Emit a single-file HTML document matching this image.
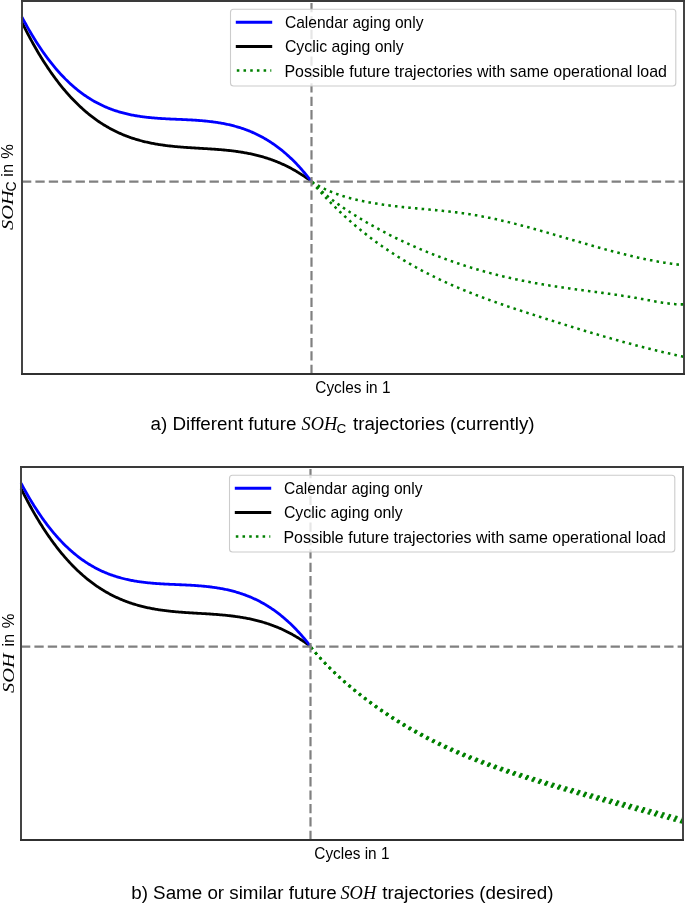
<!DOCTYPE html>
<html><head><meta charset="utf-8"><style>
html,body{margin:0;padding:0;background:#fff;width:685px;height:903px;overflow:hidden}
svg{position:absolute;left:0;top:0;will-change:transform}
</style></head><body>
<svg width="685" height="903" viewBox="0 0 685 903">
<rect width="685" height="903" fill="#fff"/>
<g><rect x="22" y="1" width="662" height="373" fill="#fff" stroke="none"/>
<path d="M22.00,22.38 L23.00,24.42 L24.00,26.43 L25.00,28.42 L26.00,30.38 L27.00,32.33 L28.00,34.25 L29.00,36.14 L30.00,38.02 L31.00,39.87 L32.00,41.70 L33.00,43.51 L34.00,45.30 L35.00,47.06 L36.00,48.80 L37.00,50.53 L38.00,52.23 L39.00,53.91 L40.00,55.56 L41.00,57.20 L42.00,58.82 L43.00,60.42 L44.00,61.99 L45.00,63.55 L46.00,65.08 L47.00,66.60 L48.00,68.10 L49.00,69.57 L50.00,71.03 L51.00,72.47 L52.00,73.89 L53.00,75.29 L54.00,76.67 L55.00,78.03 L56.00,79.38 L57.00,80.70 L58.00,82.01 L59.00,83.30 L60.00,84.57 L61.00,85.83 L62.00,87.07 L63.00,88.28 L64.00,89.49 L65.00,90.67 L66.00,91.84 L67.00,92.99 L68.00,94.12 L69.00,95.24 L70.00,96.34 L71.00,97.43 L72.00,98.49 L73.00,99.55 L74.00,100.58 L75.00,101.60 L76.00,102.61 L77.00,103.60 L78.00,104.57 L79.00,105.53 L80.00,106.47 L81.00,107.40 L82.00,108.32 L83.00,109.22 L84.00,110.10 L85.00,110.97 L86.00,111.83 L87.00,112.67 L88.00,113.50 L89.00,114.31 L90.00,115.11 L91.00,115.90 L92.00,116.67 L93.00,117.43 L94.00,118.18 L95.00,118.91 L96.00,119.63 L97.00,120.34 L98.00,121.04 L99.00,121.72 L100.00,122.39 L101.00,123.05 L102.00,123.69 L103.00,124.33 L104.00,124.95 L105.00,125.56 L106.00,126.16 L107.00,126.74 L108.00,127.32 L109.00,127.88 L110.00,128.44 L111.00,128.98 L112.00,129.51 L113.00,130.03 L114.00,130.54 L115.00,131.04 L116.00,131.53 L117.00,132.01 L118.00,132.48 L119.00,132.93 L120.00,133.38 L121.00,133.82 L122.00,134.25 L123.00,134.67 L124.00,135.08 L125.00,135.48 L126.00,135.88 L127.00,136.26 L128.00,136.63 L129.00,137.00 L130.00,137.36 L131.00,137.71 L132.00,138.05 L133.00,138.38 L134.00,138.70 L135.00,139.02 L136.00,139.33 L137.00,139.63 L138.00,139.92 L139.00,140.20 L140.00,140.48 L141.00,140.75 L142.00,141.02 L143.00,141.27 L144.00,141.52 L145.00,141.77 L146.00,142.00 L147.00,142.23 L148.00,142.46 L149.00,142.67 L150.00,142.88 L151.00,143.09 L152.00,143.29 L153.00,143.48 L154.00,143.67 L155.00,143.85 L156.00,144.03 L157.00,144.20 L158.00,144.37 L159.00,144.53 L160.00,144.68 L161.00,144.84 L162.00,144.98 L163.00,145.13 L164.00,145.26 L165.00,145.40 L166.00,145.53 L167.00,145.65 L168.00,145.77 L169.00,145.89 L170.00,146.01 L171.00,146.12 L172.00,146.22 L173.00,146.33 L174.00,146.43 L175.00,146.52 L176.00,146.62 L177.00,146.71 L178.00,146.80 L179.00,146.89 L180.00,146.97 L181.00,147.05 L182.00,147.13 L183.00,147.21 L184.00,147.28 L185.00,147.35 L186.00,147.43 L187.00,147.50 L188.00,147.56 L189.00,147.63 L190.00,147.70 L191.00,147.76 L192.00,147.82 L193.00,147.88 L194.00,147.95 L195.00,148.01 L196.00,148.07 L197.00,148.13 L198.00,148.19 L199.00,148.24 L200.00,148.30 L201.00,148.36 L202.00,148.42 L203.00,148.48 L204.00,148.54 L205.00,148.60 L206.00,148.66 L207.00,148.72 L208.00,148.79 L209.00,148.85 L210.00,148.91 L211.00,148.98 L212.00,149.05 L213.00,149.12 L214.00,149.19 L215.00,149.26 L216.00,149.33 L217.00,149.41 L218.00,149.48 L219.00,149.56 L220.00,149.64 L221.00,149.73 L222.00,149.82 L223.00,149.90 L224.00,150.00 L225.00,150.09 L226.00,150.19 L227.00,150.29 L228.00,150.39 L229.00,150.50 L230.00,150.61 L231.00,150.73 L232.00,150.85 L233.00,150.97 L234.00,151.09 L235.00,151.22 L236.00,151.36 L237.00,151.49 L238.00,151.64 L239.00,151.78 L240.00,151.94 L241.00,152.09 L242.00,152.25 L243.00,152.42 L244.00,152.59 L245.00,152.76 L246.00,152.95 L247.00,153.13 L248.00,153.32 L249.00,153.52 L250.00,153.73 L251.00,153.94 L252.00,154.15 L253.00,154.37 L254.00,154.60 L255.00,154.83 L256.00,155.07 L257.00,155.32 L258.00,155.57 L259.00,155.83 L260.00,156.10 L261.00,156.37 L262.00,156.65 L263.00,156.94 L264.00,157.24 L265.00,157.54 L266.00,157.85 L267.00,158.16 L268.00,158.49 L269.00,158.82 L270.00,159.16 L271.00,159.51 L272.00,159.87 L273.00,160.23 L274.00,160.61 L275.00,160.99 L276.00,161.38 L277.00,161.78 L278.00,162.19 L279.00,162.60 L280.00,163.03 L281.00,163.46 L282.00,163.91 L283.00,164.36 L284.00,164.82 L285.00,165.29 L286.00,165.77 L287.00,166.26 L288.00,166.77 L289.00,167.28 L290.00,167.80 L291.00,168.33 L292.00,168.87 L293.00,169.42 L294.00,169.98 L295.00,170.55 L296.00,171.13 L297.00,171.73 L298.00,172.33 L299.00,172.94 L300.00,173.57 L301.00,174.21 L302.00,174.85 L303.00,175.51 L304.00,176.18 L305.00,176.86 L306.00,177.56 L307.00,178.26 L308.00,178.98 L309.00,179.71 L310.00,180.44 L311.00,181.20 L311.40,181.50" fill="none" stroke="#000" stroke-width="2.8" stroke-linejoin="round"/>
<path d="M22.00,17.15 L23.00,19.04 L24.00,20.90 L25.00,22.74 L26.00,24.55 L27.00,26.34 L28.00,28.11 L29.00,29.85 L30.00,31.57 L31.00,33.27 L32.00,34.95 L33.00,36.60 L34.00,38.24 L35.00,39.85 L36.00,41.44 L37.00,43.00 L38.00,44.55 L39.00,46.07 L40.00,47.57 L41.00,49.05 L42.00,50.51 L43.00,51.95 L44.00,53.37 L45.00,54.77 L46.00,56.14 L47.00,57.50 L48.00,58.84 L49.00,60.15 L50.00,61.45 L51.00,62.73 L52.00,63.98 L53.00,65.22 L54.00,66.44 L55.00,67.64 L56.00,68.82 L57.00,69.98 L58.00,71.13 L59.00,72.25 L60.00,73.36 L61.00,74.44 L62.00,75.51 L63.00,76.57 L64.00,77.60 L65.00,78.62 L66.00,79.62 L67.00,80.60 L68.00,81.56 L69.00,82.51 L70.00,83.44 L71.00,84.36 L72.00,85.26 L73.00,86.14 L74.00,87.00 L75.00,87.85 L76.00,88.69 L77.00,89.51 L78.00,90.31 L79.00,91.10 L80.00,91.87 L81.00,92.63 L82.00,93.37 L83.00,94.10 L84.00,94.81 L85.00,95.51 L86.00,96.19 L87.00,96.86 L88.00,97.52 L89.00,98.16 L90.00,98.79 L91.00,99.40 L92.00,100.01 L93.00,100.59 L94.00,101.17 L95.00,101.73 L96.00,102.28 L97.00,102.82 L98.00,103.35 L99.00,103.86 L100.00,104.36 L101.00,104.85 L102.00,105.33 L103.00,105.80 L104.00,106.25 L105.00,106.70 L106.00,107.13 L107.00,107.55 L108.00,107.96 L109.00,108.36 L110.00,108.75 L111.00,109.13 L112.00,109.50 L113.00,109.86 L114.00,110.21 L115.00,110.55 L116.00,110.88 L117.00,111.20 L118.00,111.52 L119.00,111.82 L120.00,112.11 L121.00,112.40 L122.00,112.68 L123.00,112.95 L124.00,113.21 L125.00,113.46 L126.00,113.70 L127.00,113.94 L128.00,114.17 L129.00,114.39 L130.00,114.61 L131.00,114.81 L132.00,115.02 L133.00,115.21 L134.00,115.40 L135.00,115.58 L136.00,115.75 L137.00,115.92 L138.00,116.08 L139.00,116.24 L140.00,116.39 L141.00,116.53 L142.00,116.67 L143.00,116.81 L144.00,116.93 L145.00,117.06 L146.00,117.18 L147.00,117.29 L148.00,117.40 L149.00,117.51 L150.00,117.61 L151.00,117.71 L152.00,117.80 L153.00,117.89 L154.00,117.98 L155.00,118.06 L156.00,118.14 L157.00,118.21 L158.00,118.29 L159.00,118.36 L160.00,118.42 L161.00,118.49 L162.00,118.55 L163.00,118.61 L164.00,118.67 L165.00,118.72 L166.00,118.78 L167.00,118.83 L168.00,118.88 L169.00,118.93 L170.00,118.98 L171.00,119.03 L172.00,119.07 L173.00,119.12 L174.00,119.16 L175.00,119.21 L176.00,119.25 L177.00,119.29 L178.00,119.34 L179.00,119.38 L180.00,119.42 L181.00,119.47 L182.00,119.51 L183.00,119.56 L184.00,119.60 L185.00,119.65 L186.00,119.70 L187.00,119.75 L188.00,119.80 L189.00,119.85 L190.00,119.90 L191.00,119.96 L192.00,120.01 L193.00,120.07 L194.00,120.13 L195.00,120.20 L196.00,120.26 L197.00,120.33 L198.00,120.40 L199.00,120.48 L200.00,120.55 L201.00,120.63 L202.00,120.72 L203.00,120.80 L204.00,120.89 L205.00,120.99 L206.00,121.09 L207.00,121.19 L208.00,121.29 L209.00,121.41 L210.00,121.52 L211.00,121.64 L212.00,121.76 L213.00,121.89 L214.00,122.03 L215.00,122.16 L216.00,122.31 L217.00,122.46 L218.00,122.61 L219.00,122.77 L220.00,122.94 L221.00,123.11 L222.00,123.29 L223.00,123.48 L224.00,123.67 L225.00,123.87 L226.00,124.07 L227.00,124.28 L228.00,124.50 L229.00,124.72 L230.00,124.96 L231.00,125.19 L232.00,125.44 L233.00,125.70 L234.00,125.96 L235.00,126.23 L236.00,126.51 L237.00,126.79 L238.00,127.09 L239.00,127.39 L240.00,127.70 L241.00,128.02 L242.00,128.35 L243.00,128.69 L244.00,129.04 L245.00,129.39 L246.00,129.76 L247.00,130.13 L248.00,130.52 L249.00,130.91 L250.00,131.32 L251.00,131.74 L252.00,132.16 L253.00,132.60 L254.00,133.04 L255.00,133.50 L256.00,133.97 L257.00,134.45 L258.00,134.94 L259.00,135.44 L260.00,135.95 L261.00,136.48 L262.00,137.02 L263.00,137.56 L264.00,138.12 L265.00,138.70 L266.00,139.28 L267.00,139.88 L268.00,140.49 L269.00,141.11 L270.00,141.75 L271.00,142.40 L272.00,143.06 L273.00,143.74 L274.00,144.43 L275.00,145.13 L276.00,145.85 L277.00,146.58 L278.00,147.32 L279.00,148.08 L280.00,148.86 L281.00,149.64 L282.00,150.45 L283.00,151.27 L284.00,152.10 L285.00,152.95 L286.00,153.81 L287.00,154.70 L288.00,155.59 L289.00,156.50 L290.00,157.43 L291.00,158.38 L292.00,159.34 L293.00,160.32 L294.00,161.31 L295.00,162.32 L296.00,163.35 L297.00,164.40 L298.00,165.46 L299.00,166.54 L300.00,167.64 L301.00,168.76 L302.00,169.90 L303.00,171.05 L304.00,172.22 L305.00,173.41 L306.00,174.63 L307.00,175.86 L308.00,177.10 L309.00,178.37 L310.00,179.66 L311.00,180.97 L311.40,181.50" fill="none" stroke="#0000ff" stroke-width="2.8" stroke-linejoin="round"/>
<path d="M311.40,181.50 L312.40,182.14 L313.40,182.77 L314.40,183.38 L315.40,183.98 L316.40,184.57 L317.40,185.14 L318.40,185.70 L319.40,186.25 L320.40,186.78 L321.40,187.31 L322.40,187.82 L323.40,188.32 L324.40,188.81 L325.40,189.28 L326.40,189.75 L327.40,190.20 L328.40,190.65 L329.40,191.08 L330.40,191.50 L331.40,191.92 L332.40,192.32 L333.40,192.72 L334.40,193.10 L335.40,193.48 L336.40,193.84 L337.40,194.20 L338.40,194.55 L339.40,194.90 L340.40,195.23 L341.40,195.56 L342.40,195.87 L343.40,196.19 L344.40,196.49 L345.40,196.79 L346.40,197.08 L347.40,197.36 L348.40,197.64 L349.40,197.91 L350.40,198.18 L351.40,198.44 L352.40,198.70 L353.40,198.95 L354.40,199.19 L355.40,199.43 L356.40,199.67 L357.40,199.90 L358.40,200.13 L359.40,200.36 L360.40,200.58 L361.40,200.79 L362.40,201.01 L363.40,201.21 L364.40,201.42 L365.40,201.62 L366.40,201.82 L367.40,202.01 L368.40,202.20 L369.40,202.39 L370.40,202.57 L371.40,202.75 L372.40,202.93 L373.40,203.10 L374.40,203.27 L375.40,203.44 L376.40,203.60 L377.40,203.76 L378.40,203.92 L379.40,204.08 L380.40,204.23 L381.40,204.38 L382.40,204.53 L383.40,204.67 L384.40,204.81 L385.40,204.95 L386.40,205.09 L387.40,205.22 L388.40,205.36 L389.40,205.49 L390.40,205.61 L391.40,205.74 L392.40,205.86 L393.40,205.99 L394.40,206.11 L395.40,206.22 L396.40,206.34 L397.40,206.45 L398.40,206.57 L399.40,206.68 L400.40,206.79 L401.40,206.90 L402.40,207.00 L403.40,207.11 L404.40,207.21 L405.40,207.31 L406.40,207.42 L407.40,207.52 L408.40,207.62 L409.40,207.72 L410.40,207.81 L411.40,207.91 L412.40,208.01 L413.40,208.10 L414.40,208.20 L415.40,208.29 L416.40,208.38 L417.40,208.48 L418.40,208.57 L419.40,208.66 L420.40,208.75 L421.40,208.84 L422.40,208.94 L423.40,209.03 L424.40,209.12 L425.40,209.21 L426.40,209.30 L427.40,209.39 L428.40,209.49 L429.40,209.58 L430.40,209.67 L431.40,209.76 L432.40,209.86 L433.40,209.95 L434.40,210.04 L435.40,210.14 L436.40,210.23 L437.40,210.33 L438.40,210.43 L439.40,210.53 L440.40,210.63 L441.40,210.73 L442.40,210.83 L443.40,210.93 L444.40,211.03 L445.40,211.14 L446.40,211.24 L447.40,211.35 L448.40,211.46 L449.40,211.57 L450.40,211.68 L451.40,211.80 L452.40,211.91 L453.40,212.03 L454.40,212.15 L455.40,212.27 L456.40,212.39 L457.40,212.52 L458.40,212.65 L459.40,212.78 L460.40,212.91 L461.40,213.04 L462.40,213.18 L463.40,213.32 L464.40,213.46 L465.40,213.60 L466.40,213.75 L467.40,213.89 L468.40,214.05 L469.40,214.20 L470.40,214.36 L471.40,214.52 L472.40,214.68 L473.40,214.84 L474.40,215.01 L475.40,215.18 L476.40,215.36 L477.40,215.53 L478.40,215.71 L479.40,215.89 L480.40,216.08 L481.40,216.26 L482.40,216.45 L483.40,216.64 L484.40,216.84 L485.40,217.03 L486.40,217.23 L487.40,217.43 L488.40,217.63 L489.40,217.84 L490.40,218.04 L491.40,218.25 L492.40,218.47 L493.40,218.68 L494.40,218.90 L495.40,219.11 L496.40,219.33 L497.40,219.56 L498.40,219.78 L499.40,220.01 L500.40,220.24 L501.40,220.47 L502.40,220.70 L503.40,220.93 L504.40,221.17 L505.40,221.40 L506.40,221.64 L507.40,221.89 L508.40,222.13 L509.40,222.37 L510.40,222.62 L511.40,222.87 L512.40,223.12 L513.40,223.37 L514.40,223.62 L515.40,223.87 L516.40,224.13 L517.40,224.39 L518.40,224.64 L519.40,224.90 L520.40,225.17 L521.40,225.43 L522.40,225.69 L523.40,225.96 L524.40,226.22 L525.40,226.49 L526.40,226.76 L527.40,227.03 L528.40,227.30 L529.40,227.58 L530.40,227.85 L531.40,228.12 L532.40,228.40 L533.40,228.68 L534.40,228.95 L535.40,229.23 L536.40,229.51 L537.40,229.79 L538.40,230.07 L539.40,230.36 L540.40,230.64 L541.40,230.92 L542.40,231.21 L543.40,231.49 L544.40,231.78 L545.40,232.06 L546.40,232.35 L547.40,232.64 L548.40,232.93 L549.40,233.22 L550.40,233.51 L551.40,233.80 L552.40,234.09 L553.40,234.38 L554.40,234.67 L555.40,234.96 L556.40,235.25 L557.40,235.55 L558.40,235.84 L559.40,236.13 L560.40,236.42 L561.40,236.72 L562.40,237.01 L563.40,237.30 L564.40,237.60 L565.40,237.89 L566.40,238.19 L567.40,238.48 L568.40,238.77 L569.40,239.07 L570.40,239.36 L571.40,239.66 L572.40,239.95 L573.40,240.24 L574.40,240.54 L575.40,240.83 L576.40,241.12 L577.40,241.42 L578.40,241.71 L579.40,242.00 L580.40,242.29 L581.40,242.58 L582.40,242.87 L583.40,243.17 L584.40,243.46 L585.40,243.75 L586.40,244.03 L587.40,244.32 L588.40,244.61 L589.40,244.90 L590.40,245.19 L591.40,245.47 L592.40,245.76 L593.40,246.04 L594.40,246.33 L595.40,246.61 L596.40,246.89 L597.40,247.17 L598.40,247.45 L599.40,247.73 L600.40,248.01 L601.40,248.29 L602.40,248.57 L603.40,248.85 L604.40,249.12 L605.40,249.39 L606.40,249.67 L607.40,249.94 L608.40,250.21 L609.40,250.48 L610.40,250.75 L611.40,251.02 L612.40,251.28 L613.40,251.55 L614.40,251.81 L615.40,252.07 L616.40,252.33 L617.40,252.59 L618.40,252.85 L619.40,253.10 L620.40,253.36 L621.40,253.61 L622.40,253.86 L623.40,254.11 L624.40,254.36 L625.40,254.61 L626.40,254.86 L627.40,255.10 L628.40,255.34 L629.40,255.58 L630.40,255.82 L631.40,256.06 L632.40,256.29 L633.40,256.52 L634.40,256.75 L635.40,256.98 L636.40,257.21 L637.40,257.44 L638.40,257.66 L639.40,257.88 L640.40,258.10 L641.40,258.32 L642.40,258.53 L643.40,258.74 L644.40,258.95 L645.40,259.16 L646.40,259.37 L647.40,259.57 L648.40,259.77 L649.40,259.97 L650.40,260.17 L651.40,260.37 L652.40,260.56 L653.40,260.75 L654.40,260.93 L655.40,261.12 L656.40,261.30 L657.40,261.48 L658.40,261.66 L659.40,261.83 L660.40,262.00 L661.40,262.17 L662.40,262.34 L663.40,262.50 L664.40,262.67 L665.40,262.82 L666.40,262.98 L667.40,263.13 L668.40,263.28 L669.40,263.43 L670.40,263.57 L671.40,263.71 L672.40,263.85 L673.40,263.99 L674.40,264.12 L675.40,264.25 L676.40,264.37 L677.40,264.50 L678.40,264.62 L679.40,264.73 L680.40,264.85 L681.40,264.96 L682.40,265.06 L683.40,265.17 L684.00,265.23" fill="none" stroke="#008000" stroke-width="2.55" stroke-dasharray="2.55 4.15" stroke-dashoffset="-0.8"/>
<path d="M311.40,181.50 L312.40,182.52 L313.40,183.53 L314.40,184.52 L315.40,185.49 L316.40,186.45 L317.40,187.40 L318.40,188.33 L319.40,189.24 L320.40,190.15 L321.40,191.03 L322.40,191.91 L323.40,192.77 L324.40,193.62 L325.40,194.46 L326.40,195.29 L327.40,196.10 L328.40,196.91 L329.40,197.70 L330.40,198.48 L331.40,199.26 L332.40,200.02 L333.40,200.77 L334.40,201.52 L335.40,202.25 L336.40,202.98 L337.40,203.70 L338.40,204.41 L339.40,205.11 L340.40,205.81 L341.40,206.50 L342.40,207.18 L343.40,207.86 L344.40,208.53 L345.40,209.19 L346.40,209.85 L347.40,210.51 L348.40,211.16 L349.40,211.80 L350.40,212.45 L351.40,213.08 L352.40,213.72 L353.40,214.35 L354.40,214.98 L355.40,215.60 L356.40,216.22 L357.40,216.84 L358.40,217.45 L359.40,218.06 L360.40,218.67 L361.40,219.27 L362.40,219.87 L363.40,220.46 L364.40,221.06 L365.40,221.64 L366.40,222.23 L367.40,222.81 L368.40,223.39 L369.40,223.96 L370.40,224.53 L371.40,225.10 L372.40,225.67 L373.40,226.23 L374.40,226.79 L375.40,227.34 L376.40,227.89 L377.40,228.44 L378.40,228.99 L379.40,229.53 L380.40,230.07 L381.40,230.60 L382.40,231.13 L383.40,231.66 L384.40,232.19 L385.40,232.71 L386.40,233.23 L387.40,233.75 L388.40,234.26 L389.40,234.77 L390.40,235.28 L391.40,235.78 L392.40,236.28 L393.40,236.78 L394.40,237.28 L395.40,237.77 L396.40,238.26 L397.40,238.75 L398.40,239.23 L399.40,239.71 L400.40,240.19 L401.40,240.66 L402.40,241.14 L403.40,241.61 L404.40,242.07 L405.40,242.54 L406.40,243.00 L407.40,243.46 L408.40,243.91 L409.40,244.37 L410.40,244.82 L411.40,245.27 L412.40,245.71 L413.40,246.15 L414.40,246.59 L415.40,247.03 L416.40,247.47 L417.40,247.90 L418.40,248.33 L419.40,248.76 L420.40,249.18 L421.40,249.60 L422.40,250.02 L423.40,250.44 L424.40,250.85 L425.40,251.27 L426.40,251.68 L427.40,252.09 L428.40,252.49 L429.40,252.89 L430.40,253.29 L431.40,253.69 L432.40,254.09 L433.40,254.48 L434.40,254.87 L435.40,255.26 L436.40,255.65 L437.40,256.03 L438.40,256.41 L439.40,256.79 L440.40,257.17 L441.40,257.54 L442.40,257.91 L443.40,258.28 L444.40,258.65 L445.40,259.02 L446.40,259.38 L447.40,259.74 L448.40,260.10 L449.40,260.45 L450.40,260.81 L451.40,261.16 L452.40,261.51 L453.40,261.85 L454.40,262.20 L455.40,262.54 L456.40,262.88 L457.40,263.22 L458.40,263.55 L459.40,263.88 L460.40,264.22 L461.40,264.54 L462.40,264.87 L463.40,265.20 L464.40,265.52 L465.40,265.84 L466.40,266.15 L467.40,266.47 L468.40,266.78 L469.40,267.09 L470.40,267.40 L471.40,267.71 L472.40,268.02 L473.40,268.32 L474.40,268.62 L475.40,268.92 L476.40,269.21 L477.40,269.51 L478.40,269.80 L479.40,270.09 L480.40,270.38 L481.40,270.66 L482.40,270.94 L483.40,271.23 L484.40,271.51 L485.40,271.78 L486.40,272.06 L487.40,272.33 L488.40,272.60 L489.40,272.87 L490.40,273.14 L491.40,273.40 L492.40,273.66 L493.40,273.93 L494.40,274.18 L495.40,274.44 L496.40,274.70 L497.40,274.95 L498.40,275.20 L499.40,275.45 L500.40,275.70 L501.40,275.94 L502.40,276.18 L503.40,276.42 L504.40,276.66 L505.40,276.90 L506.40,277.13 L507.40,277.37 L508.40,277.60 L509.40,277.83 L510.40,278.06 L511.40,278.28 L512.40,278.50 L513.40,278.73 L514.40,278.95 L515.40,279.16 L516.40,279.38 L517.40,279.59 L518.40,279.81 L519.40,280.02 L520.40,280.22 L521.40,280.43 L522.40,280.64 L523.40,280.84 L524.40,281.04 L525.40,281.24 L526.40,281.44 L527.40,281.63 L528.40,281.83 L529.40,282.02 L530.40,282.21 L531.40,282.40 L532.40,282.58 L533.40,282.77 L534.40,282.95 L535.40,283.13 L536.40,283.31 L537.40,283.49 L538.40,283.66 L539.40,283.84 L540.40,284.01 L541.40,284.18 L542.40,284.35 L543.40,284.52 L544.40,284.69 L545.40,284.85 L546.40,285.01 L547.40,285.18 L548.40,285.34 L549.40,285.50 L550.40,285.65 L551.40,285.81 L552.40,285.97 L553.40,286.12 L554.40,286.27 L555.40,286.43 L556.40,286.58 L557.40,286.73 L558.40,286.87 L559.40,287.02 L560.40,287.17 L561.40,287.31 L562.40,287.46 L563.40,287.60 L564.40,287.75 L565.40,287.89 L566.40,288.03 L567.40,288.17 L568.40,288.31 L569.40,288.45 L570.40,288.59 L571.40,288.73 L572.40,288.86 L573.40,289.00 L574.40,289.14 L575.40,289.27 L576.40,289.41 L577.40,289.54 L578.40,289.68 L579.40,289.81 L580.40,289.95 L581.40,290.08 L582.40,290.21 L583.40,290.35 L584.40,290.48 L585.40,290.61 L586.40,290.75 L587.40,290.88 L588.40,291.01 L589.40,291.14 L590.40,291.28 L591.40,291.41 L592.40,291.54 L593.40,291.68 L594.40,291.81 L595.40,291.94 L596.40,292.08 L597.40,292.21 L598.40,292.34 L599.40,292.48 L600.40,292.61 L601.40,292.75 L602.40,292.88 L603.40,293.02 L604.40,293.16 L605.40,293.29 L606.40,293.43 L607.40,293.57 L608.40,293.71 L609.40,293.85 L610.40,293.99 L611.40,294.13 L612.40,294.27 L613.40,294.42 L614.40,294.56 L615.40,294.70 L616.40,294.85 L617.40,295.00 L618.40,295.14 L619.40,295.29 L620.40,295.44 L621.40,295.59 L622.40,295.74 L623.40,295.90 L624.40,296.05 L625.40,296.20 L626.40,296.36 L627.40,296.52 L628.40,296.68 L629.40,296.84 L630.40,297.00 L631.40,297.16 L632.40,297.33 L633.40,297.49 L634.40,297.66 L635.40,297.83 L636.40,298.00 L637.40,298.17 L638.40,298.34 L639.40,298.52 L640.40,298.70 L641.40,298.88 L642.40,299.06 L643.40,299.24 L644.40,299.42 L645.40,299.61 L646.40,299.80 L647.40,299.98 L648.40,300.17 L649.40,300.36 L650.40,300.55 L651.40,300.73 L652.40,300.92 L653.40,301.10 L654.40,301.29 L655.40,301.47 L656.40,301.65 L657.40,301.82 L658.40,302.00 L659.40,302.17 L660.40,302.33 L661.40,302.49 L662.40,302.65 L663.40,302.81 L664.40,302.95 L665.40,303.10 L666.40,303.23 L667.40,303.36 L668.40,303.49 L669.40,303.61 L670.40,303.72 L671.40,303.82 L672.40,303.92 L673.40,304.01 L674.40,304.09 L675.40,304.16 L676.40,304.22 L677.40,304.27 L678.40,304.31 L679.40,304.35 L680.40,304.37 L681.40,304.38 L682.40,304.38 L683.40,304.37 L684.00,304.36" fill="none" stroke="#008000" stroke-width="2.55" stroke-dasharray="2.55 4.15" stroke-dashoffset="-0.8"/>
<path d="M311.40,181.50 L312.40,182.68 L313.40,183.86 L314.40,185.02 L315.40,186.17 L316.40,187.32 L317.40,188.45 L318.40,189.58 L319.40,190.69 L320.40,191.80 L321.40,192.90 L322.40,193.99 L323.40,195.08 L324.40,196.15 L325.40,197.22 L326.40,198.27 L327.40,199.32 L328.40,200.36 L329.40,201.39 L330.40,202.42 L331.40,203.44 L332.40,204.44 L333.40,205.45 L334.40,206.44 L335.40,207.43 L336.40,208.40 L337.40,209.38 L338.40,210.34 L339.40,211.30 L340.40,212.25 L341.40,213.19 L342.40,214.12 L343.40,215.05 L344.40,215.97 L345.40,216.89 L346.40,217.80 L347.40,218.70 L348.40,219.60 L349.40,220.48 L350.40,221.37 L351.40,222.24 L352.40,223.11 L353.40,223.97 L354.40,224.83 L355.40,225.68 L356.40,226.52 L357.40,227.36 L358.40,228.19 L359.40,229.02 L360.40,229.83 L361.40,230.65 L362.40,231.45 L363.40,232.26 L364.40,233.05 L365.40,233.84 L366.40,234.62 L367.40,235.40 L368.40,236.18 L369.40,236.94 L370.40,237.70 L371.40,238.46 L372.40,239.21 L373.40,239.96 L374.40,240.69 L375.40,241.43 L376.40,242.16 L377.40,242.88 L378.40,243.60 L379.40,244.31 L380.40,245.02 L381.40,245.73 L382.40,246.43 L383.40,247.12 L384.40,247.81 L385.40,248.49 L386.40,249.17 L387.40,249.85 L388.40,250.52 L389.40,251.18 L390.40,251.84 L391.40,252.50 L392.40,253.15 L393.40,253.80 L394.40,254.44 L395.40,255.08 L396.40,255.71 L397.40,256.34 L398.40,256.97 L399.40,257.59 L400.40,258.21 L401.40,258.82 L402.40,259.43 L403.40,260.04 L404.40,260.64 L405.40,261.24 L406.40,261.83 L407.40,262.42 L408.40,263.00 L409.40,263.59 L410.40,264.16 L411.40,264.74 L412.40,265.31 L413.40,265.87 L414.40,266.43 L415.40,266.99 L416.40,267.55 L417.40,268.10 L418.40,268.65 L419.40,269.19 L420.40,269.73 L421.40,270.27 L422.40,270.80 L423.40,271.33 L424.40,271.85 L425.40,272.38 L426.40,272.90 L427.40,273.41 L428.40,273.92 L429.40,274.43 L430.40,274.94 L431.40,275.44 L432.40,275.94 L433.40,276.44 L434.40,276.93 L435.40,277.42 L436.40,277.91 L437.40,278.39 L438.40,278.87 L439.40,279.35 L440.40,279.82 L441.40,280.29 L442.40,280.76 L443.40,281.23 L444.40,281.69 L445.40,282.15 L446.40,282.60 L447.40,283.06 L448.40,283.51 L449.40,283.96 L450.40,284.40 L451.40,284.85 L452.40,285.29 L453.40,285.72 L454.40,286.16 L455.40,286.59 L456.40,287.02 L457.40,287.45 L458.40,287.87 L459.40,288.30 L460.40,288.72 L461.40,289.14 L462.40,289.55 L463.40,289.96 L464.40,290.37 L465.40,290.78 L466.40,291.19 L467.40,291.59 L468.40,291.99 L469.40,292.39 L470.40,292.79 L471.40,293.19 L472.40,293.58 L473.40,293.97 L474.40,294.36 L475.40,294.75 L476.40,295.13 L477.40,295.51 L478.40,295.90 L479.40,296.27 L480.40,296.65 L481.40,297.03 L482.40,297.40 L483.40,297.77 L484.40,298.14 L485.40,298.51 L486.40,298.88 L487.40,299.25 L488.40,299.61 L489.40,299.97 L490.40,300.33 L491.40,300.69 L492.40,301.05 L493.40,301.41 L494.40,301.76 L495.40,302.11 L496.40,302.46 L497.40,302.82 L498.40,303.16 L499.40,303.51 L500.40,303.86 L501.40,304.20 L502.40,304.55 L503.40,304.89 L504.40,305.23 L505.40,305.57 L506.40,305.91 L507.40,306.25 L508.40,306.59 L509.40,306.93 L510.40,307.26 L511.40,307.60 L512.40,307.93 L513.40,308.26 L514.40,308.60 L515.40,308.93 L516.40,309.26 L517.40,309.59 L518.40,309.91 L519.40,310.24 L520.40,310.57 L521.40,310.90 L522.40,311.22 L523.40,311.55 L524.40,311.87 L525.40,312.20 L526.40,312.52 L527.40,312.85 L528.40,313.17 L529.40,313.49 L530.40,313.81 L531.40,314.14 L532.40,314.46 L533.40,314.78 L534.40,315.10 L535.40,315.42 L536.40,315.74 L537.40,316.06 L538.40,316.38 L539.40,316.70 L540.40,317.02 L541.40,317.34 L542.40,317.66 L543.40,317.98 L544.40,318.29 L545.40,318.61 L546.40,318.93 L547.40,319.25 L548.40,319.56 L549.40,319.88 L550.40,320.20 L551.40,320.51 L552.40,320.83 L553.40,321.14 L554.40,321.46 L555.40,321.77 L556.40,322.09 L557.40,322.40 L558.40,322.72 L559.40,323.03 L560.40,323.34 L561.40,323.65 L562.40,323.97 L563.40,324.28 L564.40,324.59 L565.40,324.90 L566.40,325.21 L567.40,325.52 L568.40,325.83 L569.40,326.14 L570.40,326.44 L571.40,326.75 L572.40,327.06 L573.40,327.37 L574.40,327.67 L575.40,327.98 L576.40,328.29 L577.40,328.59 L578.40,328.89 L579.40,329.20 L580.40,329.50 L581.40,329.80 L582.40,330.11 L583.40,330.41 L584.40,330.71 L585.40,331.01 L586.40,331.31 L587.40,331.61 L588.40,331.91 L589.40,332.21 L590.40,332.51 L591.40,332.80 L592.40,333.10 L593.40,333.40 L594.40,333.69 L595.40,333.98 L596.40,334.28 L597.40,334.57 L598.40,334.87 L599.40,335.16 L600.40,335.45 L601.40,335.74 L602.40,336.03 L603.40,336.32 L604.40,336.61 L605.40,336.90 L606.40,337.18 L607.40,337.47 L608.40,337.76 L609.40,338.04 L610.40,338.32 L611.40,338.61 L612.40,338.89 L613.40,339.17 L614.40,339.45 L615.40,339.74 L616.40,340.02 L617.40,340.29 L618.40,340.57 L619.40,340.85 L620.40,341.13 L621.40,341.40 L622.40,341.68 L623.40,341.95 L624.40,342.23 L625.40,342.50 L626.40,342.77 L627.40,343.04 L628.40,343.31 L629.40,343.58 L630.40,343.85 L631.40,344.12 L632.40,344.38 L633.40,344.65 L634.40,344.91 L635.40,345.18 L636.40,345.44 L637.40,345.70 L638.40,345.96 L639.40,346.23 L640.40,346.48 L641.40,346.74 L642.40,347.00 L643.40,347.26 L644.40,347.51 L645.40,347.77 L646.40,348.02 L647.40,348.27 L648.40,348.53 L649.40,348.78 L650.40,349.03 L651.40,349.28 L652.40,349.52 L653.40,349.77 L654.40,350.02 L655.40,350.26 L656.40,350.50 L657.40,350.75 L658.40,350.99 L659.40,351.23 L660.40,351.47 L661.40,351.71 L662.40,351.94 L663.40,352.18 L664.40,352.41 L665.40,352.65 L666.40,352.88 L667.40,353.11 L668.40,353.34 L669.40,353.57 L670.40,353.80 L671.40,354.03 L672.40,354.26 L673.40,354.48 L674.40,354.70 L675.40,354.93 L676.40,355.15 L677.40,355.37 L678.40,355.59 L679.40,355.81 L680.40,356.02 L681.40,356.24 L682.40,356.45 L683.40,356.67 L684.00,356.79" fill="none" stroke="#008000" stroke-width="2.55" stroke-dasharray="2.55 4.15" stroke-dashoffset="-0.8"/>
<line x1="311.5" y1="374" x2="311.5" y2="1" stroke="#808080" stroke-width="2.2" stroke-dasharray="9.3 4.1"/>
<line x1="22" y1="181.7" x2="684" y2="181.7" stroke="#808080" stroke-width="2.2" stroke-dasharray="9.3 4.1"/>
<line x1="22" y1="0" x2="22" y2="375" stroke="#444" stroke-width="2"/>
<line x1="684" y1="0" x2="684" y2="375" stroke="#444" stroke-width="2"/>
<line x1="21" y1="1" x2="685" y2="1" stroke="#3a3a3a" stroke-width="2"/>
<line x1="21" y1="374" x2="685" y2="374" stroke="#303030" stroke-width="2"/>
<rect x="230.5" y="9.3" width="445.3" height="76.7" rx="3" ry="3" fill="#fff" fill-opacity="0.8" stroke="#cccccc" stroke-width="1.1"/>
<line x1="235.8" y1="22.2" x2="272.2" y2="22.2" stroke="#0000ff" stroke-width="3"/>
<line x1="235.8" y1="46.4" x2="272.2" y2="46.4" stroke="#000" stroke-width="3"/>
<line x1="236.8" y1="70.4" x2="271.3" y2="70.4" stroke="#008000" stroke-width="2.55" stroke-dasharray="2.55 4.15"/>
<text x="284.9" y="28.3" font-family='"Liberation Sans", sans-serif' font-size="17.0" textLength="138.6" lengthAdjust="spacingAndGlyphs">Calendar aging only</text>
<text x="284.9" y="52.4" font-family='"Liberation Sans", sans-serif' font-size="17.0" textLength="118.8" lengthAdjust="spacingAndGlyphs">Cyclic aging only</text>
<text x="284.4" y="76.5" font-family='"Liberation Sans", sans-serif' font-size="17.0" textLength="382.6" lengthAdjust="spacingAndGlyphs">Possible future trajectories with same operational load</text>
<text x="315.3" y="392.6" font-family='"Liberation Sans", sans-serif' font-size="17.0" textLength="75.2" lengthAdjust="spacingAndGlyphs">Cycles in 1</text>
</g>
<g transform="translate(-1,466)"><rect x="22" y="1" width="662" height="373" fill="#fff" stroke="none"/>
<path d="M22.00,22.35 L23.00,24.37 L24.00,26.37 L25.00,28.34 L26.00,30.29 L27.00,32.22 L28.00,34.13 L29.00,36.01 L30.00,37.87 L31.00,39.71 L32.00,41.53 L33.00,43.32 L34.00,45.10 L35.00,46.85 L36.00,48.58 L37.00,50.29 L38.00,51.98 L39.00,53.64 L40.00,55.29 L41.00,56.92 L42.00,58.52 L43.00,60.11 L44.00,61.67 L45.00,63.22 L46.00,64.74 L47.00,66.25 L48.00,67.73 L49.00,69.20 L50.00,70.64 L51.00,72.07 L52.00,73.48 L53.00,74.87 L54.00,76.24 L55.00,77.60 L56.00,78.93 L57.00,80.25 L58.00,81.55 L59.00,82.83 L60.00,84.09 L61.00,85.33 L62.00,86.56 L63.00,87.77 L64.00,88.96 L65.00,90.14 L66.00,91.30 L67.00,92.44 L68.00,93.57 L69.00,94.68 L70.00,95.77 L71.00,96.85 L72.00,97.91 L73.00,98.95 L74.00,99.98 L75.00,100.99 L76.00,101.99 L77.00,102.97 L78.00,103.94 L79.00,104.89 L80.00,105.83 L81.00,106.75 L82.00,107.66 L83.00,108.55 L84.00,109.43 L85.00,110.29 L86.00,111.14 L87.00,111.98 L88.00,112.80 L89.00,113.61 L90.00,114.40 L91.00,115.18 L92.00,115.95 L93.00,116.71 L94.00,117.45 L95.00,118.18 L96.00,118.89 L97.00,119.59 L98.00,120.28 L99.00,120.96 L100.00,121.63 L101.00,122.28 L102.00,122.92 L103.00,123.55 L104.00,124.17 L105.00,124.77 L106.00,125.37 L107.00,125.95 L108.00,126.52 L109.00,127.08 L110.00,127.63 L111.00,128.17 L112.00,128.70 L113.00,129.21 L114.00,129.72 L115.00,130.21 L116.00,130.70 L117.00,131.17 L118.00,131.64 L119.00,132.09 L120.00,132.54 L121.00,132.98 L122.00,133.40 L123.00,133.82 L124.00,134.23 L125.00,134.63 L126.00,135.02 L127.00,135.40 L128.00,135.77 L129.00,136.13 L130.00,136.49 L131.00,136.83 L132.00,137.17 L133.00,137.50 L134.00,137.82 L135.00,138.13 L136.00,138.44 L137.00,138.74 L138.00,139.03 L139.00,139.31 L140.00,139.59 L141.00,139.86 L142.00,140.12 L143.00,140.37 L144.00,140.62 L145.00,140.86 L146.00,141.10 L147.00,141.33 L148.00,141.55 L149.00,141.76 L150.00,141.97 L151.00,142.18 L152.00,142.37 L153.00,142.57 L154.00,142.75 L155.00,142.93 L156.00,143.11 L157.00,143.28 L158.00,143.44 L159.00,143.60 L160.00,143.76 L161.00,143.91 L162.00,144.06 L163.00,144.20 L164.00,144.33 L165.00,144.47 L166.00,144.60 L167.00,144.72 L168.00,144.84 L169.00,144.96 L170.00,145.07 L171.00,145.18 L172.00,145.29 L173.00,145.39 L174.00,145.49 L175.00,145.59 L176.00,145.68 L177.00,145.77 L178.00,145.86 L179.00,145.94 L180.00,146.03 L181.00,146.11 L182.00,146.19 L183.00,146.26 L184.00,146.34 L185.00,146.41 L186.00,146.48 L187.00,146.55 L188.00,146.62 L189.00,146.68 L190.00,146.75 L191.00,146.81 L192.00,146.87 L193.00,146.94 L194.00,147.00 L195.00,147.06 L196.00,147.12 L197.00,147.18 L198.00,147.24 L199.00,147.29 L200.00,147.35 L201.00,147.41 L202.00,147.47 L203.00,147.53 L204.00,147.59 L205.00,147.65 L206.00,147.71 L207.00,147.77 L208.00,147.83 L209.00,147.89 L210.00,147.96 L211.00,148.02 L212.00,148.09 L213.00,148.16 L214.00,148.23 L215.00,148.30 L216.00,148.37 L217.00,148.45 L218.00,148.52 L219.00,148.60 L220.00,148.68 L221.00,148.77 L222.00,148.85 L223.00,148.94 L224.00,149.03 L225.00,149.13 L226.00,149.22 L227.00,149.32 L228.00,149.43 L229.00,149.53 L230.00,149.64 L231.00,149.76 L232.00,149.88 L233.00,150.00 L234.00,150.12 L235.00,150.25 L236.00,150.38 L237.00,150.52 L238.00,150.66 L239.00,150.81 L240.00,150.96 L241.00,151.11 L242.00,151.27 L243.00,151.44 L244.00,151.61 L245.00,151.78 L246.00,151.96 L247.00,152.15 L248.00,152.34 L249.00,152.53 L250.00,152.74 L251.00,152.94 L252.00,153.16 L253.00,153.38 L254.00,153.60 L255.00,153.83 L256.00,154.07 L257.00,154.32 L258.00,154.57 L259.00,154.83 L260.00,155.09 L261.00,155.36 L262.00,155.64 L263.00,155.93 L264.00,156.22 L265.00,156.52 L266.00,156.83 L267.00,157.14 L268.00,157.46 L269.00,157.79 L270.00,158.13 L271.00,158.48 L272.00,158.83 L273.00,159.20 L274.00,159.57 L275.00,159.94 L276.00,160.33 L277.00,160.73 L278.00,161.13 L279.00,161.55 L280.00,161.97 L281.00,162.40 L282.00,162.84 L283.00,163.29 L284.00,163.75 L285.00,164.22 L286.00,164.69 L287.00,165.18 L288.00,165.68 L289.00,166.19 L290.00,166.70 L291.00,167.23 L292.00,167.77 L293.00,168.31 L294.00,168.87 L295.00,169.44 L296.00,170.02 L297.00,170.60 L298.00,171.20 L299.00,171.81 L300.00,172.43 L301.00,173.07 L302.00,173.71 L303.00,174.36 L304.00,175.03 L305.00,175.70 L306.00,176.39 L307.00,177.09 L308.00,177.80 L309.00,178.52 L310.00,179.26 L311.00,180.01 L311.40,180.31" fill="none" stroke="#000" stroke-width="2.8" stroke-linejoin="round"/>
<path d="M22.00,17.16 L23.00,19.03 L24.00,20.88 L25.00,22.70 L26.00,24.50 L27.00,26.28 L28.00,28.03 L29.00,29.77 L30.00,31.47 L31.00,33.16 L32.00,34.83 L33.00,36.47 L34.00,38.09 L35.00,39.69 L36.00,41.26 L37.00,42.82 L38.00,44.35 L39.00,45.86 L40.00,47.36 L41.00,48.83 L42.00,50.28 L43.00,51.70 L44.00,53.11 L45.00,54.50 L46.00,55.87 L47.00,57.21 L48.00,58.54 L49.00,59.85 L50.00,61.13 L51.00,62.40 L52.00,63.65 L53.00,64.88 L54.00,66.09 L55.00,67.28 L56.00,68.45 L57.00,69.60 L58.00,70.74 L59.00,71.85 L60.00,72.95 L61.00,74.03 L62.00,75.09 L63.00,76.14 L64.00,77.17 L65.00,78.18 L66.00,79.17 L67.00,80.14 L68.00,81.10 L69.00,82.04 L70.00,82.97 L71.00,83.87 L72.00,84.77 L73.00,85.64 L74.00,86.50 L75.00,87.34 L76.00,88.17 L77.00,88.98 L78.00,89.78 L79.00,90.56 L80.00,91.33 L81.00,92.08 L82.00,92.82 L83.00,93.54 L84.00,94.25 L85.00,94.94 L86.00,95.62 L87.00,96.29 L88.00,96.94 L89.00,97.57 L90.00,98.20 L91.00,98.81 L92.00,99.41 L93.00,99.99 L94.00,100.56 L95.00,101.12 L96.00,101.67 L97.00,102.20 L98.00,102.72 L99.00,103.23 L100.00,103.73 L101.00,104.22 L102.00,104.69 L103.00,105.16 L104.00,105.61 L105.00,106.05 L106.00,106.48 L107.00,106.90 L108.00,107.30 L109.00,107.70 L110.00,108.09 L111.00,108.47 L112.00,108.83 L113.00,109.19 L114.00,109.54 L115.00,109.88 L116.00,110.20 L117.00,110.52 L118.00,110.83 L119.00,111.13 L120.00,111.43 L121.00,111.71 L122.00,111.99 L123.00,112.25 L124.00,112.51 L125.00,112.76 L126.00,113.01 L127.00,113.24 L128.00,113.47 L129.00,113.69 L130.00,113.90 L131.00,114.11 L132.00,114.31 L133.00,114.50 L134.00,114.69 L135.00,114.86 L136.00,115.04 L137.00,115.20 L138.00,115.37 L139.00,115.52 L140.00,115.67 L141.00,115.81 L142.00,115.95 L143.00,116.08 L144.00,116.21 L145.00,116.34 L146.00,116.45 L147.00,116.57 L148.00,116.68 L149.00,116.78 L150.00,116.88 L151.00,116.98 L152.00,117.07 L153.00,117.16 L154.00,117.25 L155.00,117.33 L156.00,117.41 L157.00,117.48 L158.00,117.55 L159.00,117.62 L160.00,117.69 L161.00,117.75 L162.00,117.82 L163.00,117.88 L164.00,117.93 L165.00,117.99 L166.00,118.04 L167.00,118.10 L168.00,118.15 L169.00,118.19 L170.00,118.24 L171.00,118.29 L172.00,118.34 L173.00,118.38 L174.00,118.42 L175.00,118.47 L176.00,118.51 L177.00,118.55 L178.00,118.60 L179.00,118.64 L180.00,118.68 L181.00,118.73 L182.00,118.77 L183.00,118.82 L184.00,118.86 L185.00,118.91 L186.00,118.96 L187.00,119.00 L188.00,119.05 L189.00,119.10 L190.00,119.16 L191.00,119.21 L192.00,119.27 L193.00,119.33 L194.00,119.39 L195.00,119.45 L196.00,119.52 L197.00,119.58 L198.00,119.65 L199.00,119.73 L200.00,119.80 L201.00,119.88 L202.00,119.97 L203.00,120.05 L204.00,120.14 L205.00,120.24 L206.00,120.33 L207.00,120.44 L208.00,120.54 L209.00,120.65 L210.00,120.76 L211.00,120.88 L212.00,121.01 L213.00,121.13 L214.00,121.27 L215.00,121.40 L216.00,121.55 L217.00,121.70 L218.00,121.85 L219.00,122.01 L220.00,122.17 L221.00,122.35 L222.00,122.52 L223.00,122.71 L224.00,122.90 L225.00,123.09 L226.00,123.30 L227.00,123.50 L228.00,123.72 L229.00,123.94 L230.00,124.17 L231.00,124.41 L232.00,124.66 L233.00,124.91 L234.00,125.17 L235.00,125.44 L236.00,125.71 L237.00,126.00 L238.00,126.29 L239.00,126.59 L240.00,126.90 L241.00,127.22 L242.00,127.55 L243.00,127.88 L244.00,128.23 L245.00,128.58 L246.00,128.94 L247.00,129.32 L248.00,129.70 L249.00,130.09 L250.00,130.49 L251.00,130.91 L252.00,131.33 L253.00,131.76 L254.00,132.20 L255.00,132.66 L256.00,133.12 L257.00,133.60 L258.00,134.09 L259.00,134.58 L260.00,135.09 L261.00,135.61 L262.00,136.15 L263.00,136.69 L264.00,137.25 L265.00,137.82 L266.00,138.40 L267.00,138.99 L268.00,139.60 L269.00,140.21 L270.00,140.85 L271.00,141.49 L272.00,142.15 L273.00,142.82 L274.00,143.50 L275.00,144.20 L276.00,144.91 L277.00,145.64 L278.00,146.38 L279.00,147.13 L280.00,147.90 L281.00,148.68 L282.00,149.48 L283.00,150.29 L284.00,151.12 L285.00,151.96 L286.00,152.82 L287.00,153.70 L288.00,154.59 L289.00,155.49 L290.00,156.41 L291.00,157.35 L292.00,158.31 L293.00,159.28 L294.00,160.26 L295.00,161.27 L296.00,162.29 L297.00,163.33 L298.00,164.39 L299.00,165.46 L300.00,166.55 L301.00,167.66 L302.00,168.79 L303.00,169.93 L304.00,171.10 L305.00,172.28 L306.00,173.48 L307.00,174.70 L308.00,175.94 L309.00,177.20 L310.00,178.48 L311.00,179.78 L311.40,180.31" fill="none" stroke="#0000ff" stroke-width="2.8" stroke-linejoin="round"/>
<path d="M311.50,180.59 L312.50,181.80 L313.50,183.02 L314.50,184.22 L315.50,185.40 L316.50,186.57 L317.50,187.72 L318.50,188.86 L319.50,189.98 L320.50,191.08 L321.50,192.17 L322.50,193.25 L323.50,194.31 L324.50,195.36 L325.50,196.40 L326.50,197.43 L327.50,198.44 L328.50,199.45 L329.50,200.44 L330.50,201.43 L331.50,202.41 L332.50,203.37 L333.50,204.33 L334.50,205.29 L335.50,206.23 L336.50,207.16 L337.50,208.09 L338.50,209.01 L339.50,209.92 L340.50,210.83 L341.50,211.73 L342.50,212.62 L343.50,213.50 L344.50,214.38 L345.50,215.25 L346.50,216.11 L347.50,216.97 L348.50,217.82 L349.50,218.67 L350.50,219.51 L351.50,220.34 L352.50,221.17 L353.50,221.99 L354.50,222.81 L355.50,223.62 L356.50,224.43 L357.50,225.23 L358.50,226.03 L359.50,226.82 L360.50,227.61 L361.50,228.39 L362.50,229.17 L363.50,229.94 L364.50,230.71 L365.50,231.47 L366.50,232.23 L367.50,232.99 L368.50,233.74 L369.50,234.48 L370.50,235.22 L371.50,235.96 L372.50,236.69 L373.50,237.41 L374.50,238.14 L375.50,238.85 L376.50,239.57 L377.50,240.27 L378.50,240.98 L379.50,241.68 L380.50,242.37 L381.50,243.06 L382.50,243.75 L383.50,244.43 L384.50,245.11 L385.50,245.78 L386.50,246.45 L387.50,247.12 L388.50,247.78 L389.50,248.43 L390.50,249.09 L391.50,249.74 L392.50,250.38 L393.50,251.02 L394.50,251.66 L395.50,252.29 L396.50,252.92 L397.50,253.54 L398.50,254.16 L399.50,254.78 L400.50,255.39 L401.50,256.00 L402.50,256.60 L403.50,257.21 L404.50,257.80 L405.50,258.40 L406.50,258.99 L407.50,259.57 L408.50,260.16 L409.50,260.73 L410.50,261.31 L411.50,261.88 L412.50,262.45 L413.50,263.01 L414.50,263.58 L415.50,264.13 L416.50,264.69 L417.50,265.24 L418.50,265.78 L419.50,266.33 L420.50,266.87 L421.50,267.41 L422.50,267.94 L423.50,268.47 L424.50,269.00 L425.50,269.52 L426.50,270.04 L427.50,270.56 L428.50,271.07 L429.50,271.58 L430.50,272.09 L431.50,272.60 L432.50,273.10 L433.50,273.60 L434.50,274.09 L435.50,274.58 L436.50,275.07 L437.50,275.56 L438.50,276.04 L439.50,276.52 L440.50,277.00 L441.50,277.47 L442.50,277.95 L443.50,278.41 L444.50,278.88 L445.50,279.34 L446.50,279.80 L447.50,280.26 L448.50,280.72 L449.50,281.17 L450.50,281.62 L451.50,282.06 L452.50,282.51 L453.50,282.95 L454.50,283.39 L455.50,283.82 L456.50,284.26 L457.50,284.69 L458.50,285.12 L459.50,285.54 L460.50,285.96 L461.50,286.39 L462.50,286.80 L463.50,287.22 L464.50,287.63 L465.50,288.05 L466.50,288.45 L467.50,288.86 L468.50,289.27 L469.50,289.67 L470.50,290.07 L471.50,290.46 L472.50,290.86 L473.50,291.25 L474.50,291.64 L475.50,292.03 L476.50,292.42 L477.50,292.81 L478.50,293.19 L479.50,293.57 L480.50,293.95 L481.50,294.32 L482.50,294.70 L483.50,295.07 L484.50,295.44 L485.50,295.81 L486.50,296.18 L487.50,296.54 L488.50,296.91 L489.50,297.27 L490.50,297.63 L491.50,297.98 L492.50,298.34 L493.50,298.69 L494.50,299.05 L495.50,299.40 L496.50,299.75 L497.50,300.10 L498.50,300.44 L499.50,300.79 L500.50,301.13 L501.50,301.47 L502.50,301.81 L503.50,302.15 L504.50,302.48 L505.50,302.82 L506.50,303.15 L507.50,303.49 L508.50,303.82 L509.50,304.15 L510.50,304.48 L511.50,304.80 L512.50,305.13 L513.50,305.45 L514.50,305.78 L515.50,306.10 L516.50,306.42 L517.50,306.74 L518.50,307.06 L519.50,307.38 L520.50,307.69 L521.50,308.01 L522.50,308.32 L523.50,308.63 L524.50,308.95 L525.50,309.26 L526.50,309.57 L527.50,309.88 L528.50,310.18 L529.50,310.49 L530.50,310.80 L531.50,311.10 L532.50,311.41 L533.50,311.71 L534.50,312.02 L535.50,312.32 L536.50,312.62 L537.50,312.92 L538.50,313.22 L539.50,313.52 L540.50,313.82 L541.50,314.12 L542.50,314.41 L543.50,314.71 L544.50,315.01 L545.50,315.30 L546.50,315.60 L547.50,315.89 L548.50,316.18 L549.50,316.47 L550.50,316.77 L551.50,317.06 L552.50,317.35 L553.50,317.64 L554.50,317.93 L555.50,318.22 L556.50,318.50 L557.50,318.79 L558.50,319.08 L559.50,319.36 L560.50,319.65 L561.50,319.93 L562.50,320.22 L563.50,320.50 L564.50,320.79 L565.50,321.07 L566.50,321.35 L567.50,321.63 L568.50,321.91 L569.50,322.19 L570.50,322.47 L571.50,322.75 L572.50,323.03 L573.50,323.31 L574.50,323.59 L575.50,323.87 L576.50,324.15 L577.50,324.42 L578.50,324.70 L579.50,324.97 L580.50,325.25 L581.50,325.52 L582.50,325.80 L583.50,326.07 L584.50,326.35 L585.50,326.62 L586.50,326.89 L587.50,327.17 L588.50,327.44 L589.50,327.71 L590.50,327.98 L591.50,328.25 L592.50,328.52 L593.50,328.79 L594.50,329.06 L595.50,329.33 L596.50,329.60 L597.50,329.87 L598.50,330.14 L599.50,330.41 L600.50,330.68 L601.50,330.95 L602.50,331.21 L603.50,331.48 L604.50,331.75 L605.50,332.02 L606.50,332.28 L607.50,332.55 L608.50,332.81 L609.50,333.08 L610.50,333.35 L611.50,333.61 L612.50,333.88 L613.50,334.14 L614.50,334.41 L615.50,334.67 L616.50,334.94 L617.50,335.20 L618.50,335.47 L619.50,335.73 L620.50,335.99 L621.50,336.26 L622.50,336.52 L623.50,336.79 L624.50,337.05 L625.50,337.31 L626.50,337.58 L627.50,337.84 L628.50,338.10 L629.50,338.36 L630.50,338.63 L631.50,338.89 L632.50,339.15 L633.50,339.42 L634.50,339.68 L635.50,339.94 L636.50,340.20 L637.50,340.47 L638.50,340.73 L639.50,340.99 L640.50,341.25 L641.50,341.52 L642.50,341.78 L643.50,342.04 L644.50,342.31 L645.50,342.57 L646.50,342.83 L647.50,343.09 L648.50,343.36 L649.50,343.62 L650.50,343.88 L651.50,344.15 L652.50,344.41 L653.50,344.67 L654.50,344.94 L655.50,345.20 L656.50,345.46 L657.50,345.73 L658.50,345.99 L659.50,346.26 L660.50,346.52 L661.50,346.78 L662.50,347.05 L663.50,347.31 L664.50,347.58 L665.50,347.84 L666.50,348.11 L667.50,348.37 L668.50,348.64 L669.50,348.91 L670.50,349.17 L671.50,349.44 L672.50,349.71 L673.50,349.97 L674.50,350.24 L675.50,350.51 L676.50,350.77 L677.50,351.04 L678.50,351.31 L679.50,351.58 L680.50,351.85 L681.50,352.12 L682.50,352.39 L683.50,352.66 L684.00,352.79" fill="none" stroke="#008000" stroke-width="2.55" stroke-dasharray="2.55 4.15" stroke-dashoffset="-0.8"/>
<path d="M311.50,180.60 L312.50,181.86 L313.50,183.11 L314.50,184.33 L315.50,185.53 L316.50,186.72 L317.50,187.89 L318.50,189.04 L319.50,190.18 L320.50,191.30 L321.50,192.40 L322.50,193.49 L323.50,194.57 L324.50,195.63 L325.50,196.68 L326.50,197.72 L327.50,198.75 L328.50,199.76 L329.50,200.77 L330.50,201.77 L331.50,202.75 L332.50,203.73 L333.50,204.70 L334.50,205.66 L335.50,206.62 L336.50,207.56 L337.50,208.50 L338.50,209.43 L339.50,210.35 L340.50,211.26 L341.50,212.17 L342.50,213.07 L343.50,213.96 L344.50,214.85 L345.50,215.73 L346.50,216.60 L347.50,217.46 L348.50,218.32 L349.50,219.18 L350.50,220.02 L351.50,220.87 L352.50,221.70 L353.50,222.53 L354.50,223.36 L355.50,224.18 L356.50,224.99 L357.50,225.80 L358.50,226.61 L359.50,227.41 L360.50,228.20 L361.50,228.99 L362.50,229.78 L363.50,230.56 L364.50,231.33 L365.50,232.10 L366.50,232.87 L367.50,233.63 L368.50,234.39 L369.50,235.14 L370.50,235.88 L371.50,236.63 L372.50,237.36 L373.50,238.10 L374.50,238.82 L375.50,239.55 L376.50,240.27 L377.50,240.98 L378.50,241.69 L379.50,242.40 L380.50,243.10 L381.50,243.80 L382.50,244.49 L383.50,245.18 L384.50,245.86 L385.50,246.54 L386.50,247.22 L387.50,247.89 L388.50,248.55 L389.50,249.22 L390.50,249.88 L391.50,250.53 L392.50,251.18 L393.50,251.83 L394.50,252.47 L395.50,253.11 L396.50,253.74 L397.50,254.37 L398.50,255.00 L399.50,255.62 L400.50,256.24 L401.50,256.85 L402.50,257.46 L403.50,258.07 L404.50,258.67 L405.50,259.27 L406.50,259.87 L407.50,260.46 L408.50,261.05 L409.50,261.63 L410.50,262.21 L411.50,262.79 L412.50,263.36 L413.50,263.93 L414.50,264.50 L415.50,265.06 L416.50,265.62 L417.50,266.18 L418.50,266.73 L419.50,267.28 L420.50,267.83 L421.50,268.37 L422.50,268.91 L423.50,269.44 L424.50,269.97 L425.50,270.50 L426.50,271.03 L427.50,271.55 L428.50,272.07 L429.50,272.59 L430.50,273.10 L431.50,273.61 L432.50,274.12 L433.50,274.62 L434.50,275.12 L435.50,275.62 L436.50,276.11 L437.50,276.60 L438.50,277.09 L439.50,277.58 L440.50,278.06 L441.50,278.54 L442.50,279.01 L443.50,279.49 L444.50,279.96 L445.50,280.43 L446.50,280.89 L447.50,281.35 L448.50,281.81 L449.50,282.27 L450.50,282.72 L451.50,283.17 L452.50,283.62 L453.50,284.07 L454.50,284.51 L455.50,284.95 L456.50,285.39 L457.50,285.83 L458.50,286.26 L459.50,286.69 L460.50,287.12 L461.50,287.54 L462.50,287.97 L463.50,288.39 L464.50,288.81 L465.50,289.22 L466.50,289.64 L467.50,290.05 L468.50,290.46 L469.50,290.86 L470.50,291.27 L471.50,291.67 L472.50,292.07 L473.50,292.47 L474.50,292.86 L475.50,293.26 L476.50,293.65 L477.50,294.04 L478.50,294.42 L479.50,294.81 L480.50,295.19 L481.50,295.57 L482.50,295.95 L483.50,296.33 L484.50,296.70 L485.50,297.08 L486.50,297.45 L487.50,297.82 L488.50,298.19 L489.50,298.55 L490.50,298.92 L491.50,299.28 L492.50,299.64 L493.50,300.00 L494.50,300.35 L495.50,300.71 L496.50,301.06 L497.50,301.41 L498.50,301.76 L499.50,302.11 L500.50,302.46 L501.50,302.81 L502.50,303.15 L503.50,303.49 L504.50,303.83 L505.50,304.17 L506.50,304.51 L507.50,304.85 L508.50,305.18 L509.50,305.52 L510.50,305.85 L511.50,306.18 L512.50,306.51 L513.50,306.84 L514.50,307.17 L515.50,307.49 L516.50,307.82 L517.50,308.14 L518.50,308.46 L519.50,308.79 L520.50,309.11 L521.50,309.43 L522.50,309.74 L523.50,310.06 L524.50,310.38 L525.50,310.69 L526.50,311.01 L527.50,311.32 L528.50,311.63 L529.50,311.94 L530.50,312.25 L531.50,312.56 L532.50,312.87 L533.50,313.18 L534.50,313.49 L535.50,313.79 L536.50,314.10 L537.50,314.40 L538.50,314.71 L539.50,315.01 L540.50,315.31 L541.50,315.61 L542.50,315.92 L543.50,316.22 L544.50,316.52 L545.50,316.81 L546.50,317.11 L547.50,317.41 L548.50,317.71 L549.50,318.00 L550.50,318.30 L551.50,318.59 L552.50,318.89 L553.50,319.18 L554.50,319.48 L555.50,319.77 L556.50,320.06 L557.50,320.35 L558.50,320.64 L559.50,320.93 L560.50,321.22 L561.50,321.51 L562.50,321.80 L563.50,322.08 L564.50,322.37 L565.50,322.66 L566.50,322.94 L567.50,323.23 L568.50,323.51 L569.50,323.80 L570.50,324.08 L571.50,324.37 L572.50,324.65 L573.50,324.93 L574.50,325.21 L575.50,325.49 L576.50,325.78 L577.50,326.06 L578.50,326.34 L579.50,326.62 L580.50,326.90 L581.50,327.17 L582.50,327.45 L583.50,327.73 L584.50,328.01 L585.50,328.28 L586.50,328.56 L587.50,328.84 L588.50,329.11 L589.50,329.39 L590.50,329.66 L591.50,329.94 L592.50,330.21 L593.50,330.49 L594.50,330.76 L595.50,331.03 L596.50,331.31 L597.50,331.58 L598.50,331.85 L599.50,332.12 L600.50,332.40 L601.50,332.67 L602.50,332.94 L603.50,333.21 L604.50,333.48 L605.50,333.75 L606.50,334.02 L607.50,334.29 L608.50,334.56 L609.50,334.83 L610.50,335.10 L611.50,335.37 L612.50,335.64 L613.50,335.91 L614.50,336.17 L615.50,336.44 L616.50,336.71 L617.50,336.98 L618.50,337.25 L619.50,337.51 L620.50,337.78 L621.50,338.05 L622.50,338.32 L623.50,338.58 L624.50,338.85 L625.50,339.12 L626.50,339.38 L627.50,339.65 L628.50,339.92 L629.50,340.18 L630.50,340.45 L631.50,340.72 L632.50,340.98 L633.50,341.25 L634.50,341.51 L635.50,341.78 L636.50,342.05 L637.50,342.31 L638.50,342.58 L639.50,342.85 L640.50,343.11 L641.50,343.38 L642.50,343.64 L643.50,343.91 L644.50,344.18 L645.50,344.44 L646.50,344.71 L647.50,344.97 L648.50,345.24 L649.50,345.51 L650.50,345.77 L651.50,346.04 L652.50,346.31 L653.50,346.57 L654.50,346.84 L655.50,347.11 L656.50,347.37 L657.50,347.64 L658.50,347.91 L659.50,348.18 L660.50,348.44 L661.50,348.71 L662.50,348.98 L663.50,349.25 L664.50,349.52 L665.50,349.78 L666.50,350.05 L667.50,350.32 L668.50,350.59 L669.50,350.86 L670.50,351.13 L671.50,351.40 L672.50,351.67 L673.50,351.94 L674.50,352.21 L675.50,352.48 L676.50,352.75 L677.50,353.02 L678.50,353.29 L679.50,353.56 L680.50,353.84 L681.50,354.11 L682.50,354.38 L683.50,354.65 L684.00,354.79" fill="none" stroke="#008000" stroke-width="2.55" stroke-dasharray="2.55 4.15" stroke-dashoffset="-0.8"/>
<path d="M311.50,180.62 L312.50,181.92 L313.50,183.20 L314.50,184.44 L315.50,185.67 L316.50,186.87 L317.50,188.06 L318.50,189.23 L319.50,190.38 L320.50,191.51 L321.50,192.63 L322.50,193.74 L323.50,194.82 L324.50,195.90 L325.50,196.96 L326.50,198.01 L327.50,199.05 L328.50,200.08 L329.50,201.10 L330.50,202.10 L331.50,203.10 L332.50,204.09 L333.50,205.07 L334.50,206.04 L335.50,207.00 L336.50,207.96 L337.50,208.90 L338.50,209.84 L339.50,210.77 L340.50,211.70 L341.50,212.61 L342.50,213.52 L343.50,214.42 L344.50,215.31 L345.50,216.20 L346.50,217.08 L347.50,217.96 L348.50,218.82 L349.50,219.69 L350.50,220.54 L351.50,221.39 L352.50,222.23 L353.50,223.07 L354.50,223.91 L355.50,224.73 L356.50,225.56 L357.50,226.37 L358.50,227.18 L359.50,227.99 L360.50,228.79 L361.50,229.59 L362.50,230.38 L363.50,231.17 L364.50,231.95 L365.50,232.73 L366.50,233.50 L367.50,234.27 L368.50,235.03 L369.50,235.79 L370.50,236.55 L371.50,237.29 L372.50,238.04 L373.50,238.78 L374.50,239.51 L375.50,240.24 L376.50,240.97 L377.50,241.69 L378.50,242.41 L379.50,243.12 L380.50,243.83 L381.50,244.53 L382.50,245.23 L383.50,245.92 L384.50,246.61 L385.50,247.30 L386.50,247.98 L387.50,248.66 L388.50,249.33 L389.50,250.00 L390.50,250.67 L391.50,251.33 L392.50,251.98 L393.50,252.63 L394.50,253.28 L395.50,253.93 L396.50,254.57 L397.50,255.20 L398.50,255.83 L399.50,256.46 L400.50,257.09 L401.50,257.71 L402.50,258.32 L403.50,258.94 L404.50,259.54 L405.50,260.15 L406.50,260.75 L407.50,261.35 L408.50,261.94 L409.50,262.53 L410.50,263.12 L411.50,263.70 L412.50,264.28 L413.50,264.85 L414.50,265.43 L415.50,265.99 L416.50,266.56 L417.50,267.12 L418.50,267.68 L419.50,268.23 L420.50,268.78 L421.50,269.33 L422.50,269.87 L423.50,270.42 L424.50,270.95 L425.50,271.49 L426.50,272.02 L427.50,272.55 L428.50,273.07 L429.50,273.59 L430.50,274.11 L431.50,274.62 L432.50,275.14 L433.50,275.64 L434.50,276.15 L435.50,276.65 L436.50,277.15 L437.50,277.65 L438.50,278.14 L439.50,278.63 L440.50,279.12 L441.50,279.60 L442.50,280.08 L443.50,280.56 L444.50,281.04 L445.50,281.51 L446.50,281.98 L447.50,282.45 L448.50,282.91 L449.50,283.37 L450.50,283.83 L451.50,284.29 L452.50,284.74 L453.50,285.19 L454.50,285.64 L455.50,286.08 L456.50,286.53 L457.50,286.97 L458.50,287.41 L459.50,287.84 L460.50,288.27 L461.50,288.70 L462.50,289.13 L463.50,289.56 L464.50,289.98 L465.50,290.40 L466.50,290.82 L467.50,291.23 L468.50,291.65 L469.50,292.06 L470.50,292.47 L471.50,292.87 L472.50,293.28 L473.50,293.68 L474.50,294.08 L475.50,294.48 L476.50,294.87 L477.50,295.27 L478.50,295.66 L479.50,296.05 L480.50,296.44 L481.50,296.82 L482.50,297.21 L483.50,297.59 L484.50,297.97 L485.50,298.34 L486.50,298.72 L487.50,299.09 L488.50,299.47 L489.50,299.84 L490.50,300.20 L491.50,300.57 L492.50,300.93 L493.50,301.30 L494.50,301.66 L495.50,302.02 L496.50,302.38 L497.50,302.73 L498.50,303.09 L499.50,303.44 L500.50,303.79 L501.50,304.14 L502.50,304.49 L503.50,304.84 L504.50,305.18 L505.50,305.52 L506.50,305.87 L507.50,306.21 L508.50,306.55 L509.50,306.89 L510.50,307.22 L511.50,307.56 L512.50,307.89 L513.50,308.22 L514.50,308.56 L515.50,308.89 L516.50,309.22 L517.50,309.54 L518.50,309.87 L519.50,310.20 L520.50,310.52 L521.50,310.84 L522.50,311.17 L523.50,311.49 L524.50,311.81 L525.50,312.13 L526.50,312.44 L527.50,312.76 L528.50,313.08 L529.50,313.39 L530.50,313.71 L531.50,314.02 L532.50,314.33 L533.50,314.65 L534.50,314.96 L535.50,315.27 L536.50,315.58 L537.50,315.88 L538.50,316.19 L539.50,316.50 L540.50,316.81 L541.50,317.11 L542.50,317.42 L543.50,317.72 L544.50,318.02 L545.50,318.33 L546.50,318.63 L547.50,318.93 L548.50,319.23 L549.50,319.53 L550.50,319.83 L551.50,320.13 L552.50,320.43 L553.50,320.73 L554.50,321.02 L555.50,321.32 L556.50,321.61 L557.50,321.91 L558.50,322.20 L559.50,322.50 L560.50,322.79 L561.50,323.08 L562.50,323.38 L563.50,323.67 L564.50,323.96 L565.50,324.25 L566.50,324.54 L567.50,324.83 L568.50,325.12 L569.50,325.40 L570.50,325.69 L571.50,325.98 L572.50,326.26 L573.50,326.55 L574.50,326.84 L575.50,327.12 L576.50,327.41 L577.50,327.69 L578.50,327.97 L579.50,328.26 L580.50,328.54 L581.50,328.82 L582.50,329.10 L583.50,329.39 L584.50,329.67 L585.50,329.95 L586.50,330.23 L587.50,330.51 L588.50,330.79 L589.50,331.07 L590.50,331.35 L591.50,331.62 L592.50,331.90 L593.50,332.18 L594.50,332.46 L595.50,332.73 L596.50,333.01 L597.50,333.29 L598.50,333.56 L599.50,333.84 L600.50,334.11 L601.50,334.39 L602.50,334.66 L603.50,334.94 L604.50,335.21 L605.50,335.49 L606.50,335.76 L607.50,336.03 L608.50,336.31 L609.50,336.58 L610.50,336.85 L611.50,337.13 L612.50,337.40 L613.50,337.67 L614.50,337.94 L615.50,338.21 L616.50,338.48 L617.50,338.76 L618.50,339.03 L619.50,339.30 L620.50,339.57 L621.50,339.84 L622.50,340.11 L623.50,340.38 L624.50,340.65 L625.50,340.92 L626.50,341.19 L627.50,341.46 L628.50,341.73 L629.50,342.00 L630.50,342.27 L631.50,342.54 L632.50,342.81 L633.50,343.08 L634.50,343.35 L635.50,343.62 L636.50,343.89 L637.50,344.16 L638.50,344.43 L639.50,344.70 L640.50,344.97 L641.50,345.24 L642.50,345.51 L643.50,345.78 L644.50,346.05 L645.50,346.32 L646.50,346.58 L647.50,346.85 L648.50,347.12 L649.50,347.39 L650.50,347.66 L651.50,347.93 L652.50,348.20 L653.50,348.47 L654.50,348.74 L655.50,349.01 L656.50,349.28 L657.50,349.55 L658.50,349.83 L659.50,350.10 L660.50,350.37 L661.50,350.64 L662.50,350.91 L663.50,351.18 L664.50,351.45 L665.50,351.72 L666.50,352.00 L667.50,352.27 L668.50,352.54 L669.50,352.81 L670.50,353.08 L671.50,353.36 L672.50,353.63 L673.50,353.90 L674.50,354.18 L675.50,354.45 L676.50,354.73 L677.50,355.00 L678.50,355.28 L679.50,355.55 L680.50,355.83 L681.50,356.10 L682.50,356.38 L683.50,356.65 L684.00,356.79" fill="none" stroke="#008000" stroke-width="2.55" stroke-dasharray="2.55 4.15" stroke-dashoffset="-0.8"/>
<line x1="311.5" y1="374" x2="311.5" y2="1" stroke="#808080" stroke-width="2.2" stroke-dasharray="9.3 4.1"/>
<line x1="22" y1="180.6" x2="684" y2="180.6" stroke="#808080" stroke-width="2.2" stroke-dasharray="9.3 4.1"/>
<line x1="22" y1="0" x2="22" y2="375" stroke="#444" stroke-width="2"/>
<line x1="684" y1="0" x2="684" y2="375" stroke="#444" stroke-width="2"/>
<line x1="21" y1="1.0" x2="685" y2="1.0" stroke="#3a3a3a" stroke-width="2"/>
<line x1="21" y1="374" x2="685" y2="374" stroke="#303030" stroke-width="2"/>
<rect x="230.5" y="9.3" width="445.3" height="76.7" rx="3" ry="3" fill="#fff" fill-opacity="0.8" stroke="#cccccc" stroke-width="1.1"/>
<line x1="235.8" y1="22.2" x2="272.2" y2="22.2" stroke="#0000ff" stroke-width="3"/>
<line x1="235.8" y1="46.4" x2="272.2" y2="46.4" stroke="#000" stroke-width="3"/>
<line x1="236.8" y1="70.4" x2="271.3" y2="70.4" stroke="#008000" stroke-width="2.55" stroke-dasharray="2.55 4.15"/>
<text x="284.9" y="28.3" font-family='"Liberation Sans", sans-serif' font-size="17.0" textLength="138.6" lengthAdjust="spacingAndGlyphs">Calendar aging only</text>
<text x="284.9" y="52.4" font-family='"Liberation Sans", sans-serif' font-size="17.0" textLength="118.8" lengthAdjust="spacingAndGlyphs">Cyclic aging only</text>
<text x="284.4" y="76.5" font-family='"Liberation Sans", sans-serif' font-size="17.0" textLength="382.6" lengthAdjust="spacingAndGlyphs">Possible future trajectories with same operational load</text>
<text x="315.3" y="392.6" font-family='"Liberation Sans", sans-serif' font-size="17.0" textLength="75.2" lengthAdjust="spacingAndGlyphs">Cycles in 1</text>
</g>
<g transform="translate(13.0,231) rotate(-90)" fill="#000">
<text x="1.0" y="0" font-family='"Liberation Serif", serif' font-style="italic" font-size="17.4" textLength="39.6" lengthAdjust="spacingAndGlyphs">SOH</text>
<text x="39.4" y="3.1" font-family='"Liberation Sans", sans-serif' font-size="14">C</text>
<text x="54.3" y="0" font-family='"Liberation Sans", sans-serif' font-size="16.5">in</text>
<text x="72.2" y="0" font-family='"Liberation Sans", sans-serif' font-size="16.5">%</text>
</g>
<g transform="translate(13.9,693) rotate(-90)" fill="#000">
<text x="0.0" y="0" font-family='"Liberation Serif", serif' font-style="italic" font-size="17.4" textLength="39.6" lengthAdjust="spacingAndGlyphs">SOH</text>
<text x="46.4" y="0" font-family='"Liberation Sans", sans-serif' font-size="16.5">in</text>
<text x="64.8" y="0" font-family='"Liberation Sans", sans-serif' font-size="16.5">%</text>
</g>
<g font-family='"Liberation Sans", sans-serif' font-size="18.8" fill="#000">
<text x="150.6" y="429.6">a) Different future</text>
<text x="301.6" y="429.6" font-family='"Liberation Serif", serif' font-style="italic" textLength="35.6" lengthAdjust="spacingAndGlyphs">SOH</text>
<text x="336.6" y="432.8" font-size="13.6">C</text>
<text x="353.0" y="429.6">trajectories (currently)</text>
<text x="131.2" y="898.5">b) Same or similar future</text>
<text x="340.4" y="898.5" font-family='"Liberation Serif", serif' font-style="italic" textLength="35.8" lengthAdjust="spacingAndGlyphs">SOH</text>
<text x="382.3" y="898.5">trajectories (desired)</text>
</g>
</svg>
</body></html>
